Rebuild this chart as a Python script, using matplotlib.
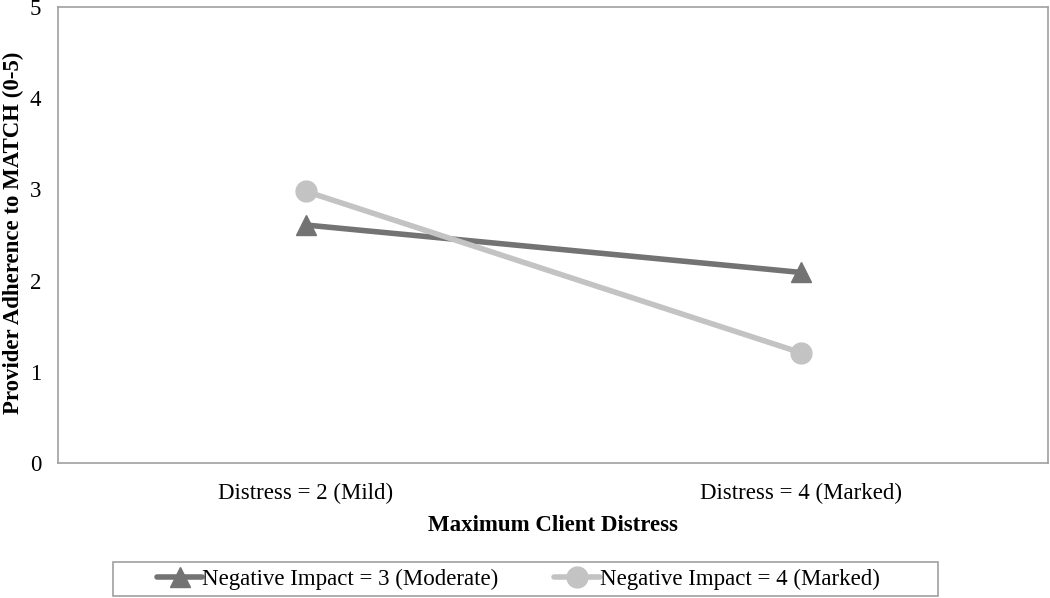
import matplotlib.pyplot as plt
from matplotlib.patches import Rectangle

plt.rcParams['font.family'] = ['Liberation Serif', 'DejaVu Serif']

categories = ['Distress = 2 (Mild)', 'Distress = 4 (Marked)']
moderate = [2.61, 2.09]
marked = [2.98, 1.21]
series_labels = ['Negative Impact = 3 (Moderate)', 'Negative Impact = 4 (Marked)']

W, H = 1050, 598
fig = plt.figure(figsize=(W / 100, H / 100), dpi=100)
ax = fig.add_axes([58 / W, 1 - 463 / H, 990 / W, 456 / H])

x = range(len(categories))
ax.plot(x, moderate, color='#737373', linewidth=4, marker='^', markersize=14,
        label=series_labels[0], solid_capstyle='round')
ax.plot(x, marked, color='#c3c3c3', linewidth=4, marker='o', markersize=15,
        label=series_labels[1], solid_capstyle='round')

ax.set_xlim(-0.5, 1.5)
ax.set_ylim(0, 5)
ax.set_xticks(list(x))
ax.set_xticklabels(categories)
ax.set_yticks(range(6))
ax.tick_params(axis='x', length=0, labelsize=16.5, pad=14)
ax.tick_params(axis='y', length=0, labelsize=16.5, pad=12)
for s in ax.spines.values():
    s.set_color('#a0a0a0')
    s.set_linewidth(1.2)

ax.set_xlabel('Maximum Client Distress', fontsize=16.5, fontweight='bold', labelpad=8)
ax.set_ylabel('Provider Adherence to MATCH (0-5)', fontsize=16.5, fontweight='bold')
ax.yaxis.set_label_coords(-34 / 990, 0.505)

leg = fig.legend(loc='center', bbox_to_anchor=(518 / W, 1 - 579 / H), ncol=2, fontsize=16.5,
                 frameon=False, handlelength=2.0, handletextpad=0.0, columnspacing=2.4,
                 borderaxespad=0)
fig.patches.append(Rectangle((113 / W, 1 - 596 / H), 825 / W, 34 / H,
                             transform=fig.transFigure, fill=False,
                             edgecolor='#a0a0a0', linewidth=1.2))

fig.savefig('out.png', dpi=100)
